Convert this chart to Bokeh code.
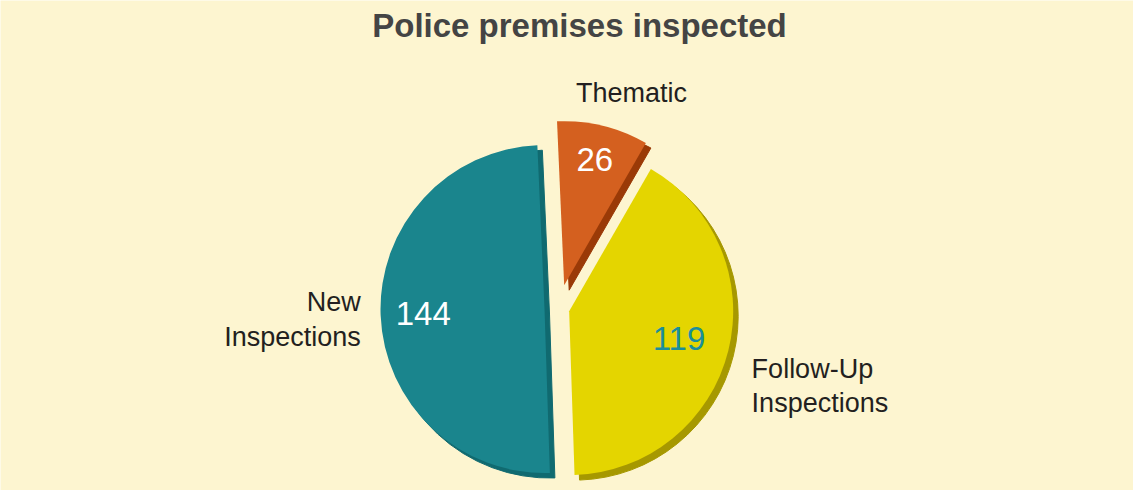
import math
from bokeh.plotting import figure
from bokeh.models import ColumnDataSource, Range1d
from bokeh.core.properties import value
from bokeh.embed import file_html
from bokeh.resources import INLINE

# ---- data ----
title_text = "Police premises inspected"
categories = ["Thematic", "Follow-Up\nInspections", "New\nInspections"]
values = [26, 119, 144]

# ---- style ----
colors = ["#D4601F", "#E4D500", "#1A858D"]
side_colors = ["#9A3A07", "#A69800", "#106A70"]
value_colors = ["#FFFFFF", "#1B8E9B", "#FFFFFF"]
explode = [24, 11, 14]
value_rfrac = [0.79, 0.69, 0.74]
label_dist = [228, 208, 198]
label_ang_tweak = [-5.0, -7.8, 1.0]
label_align = ["center", "left", "right"]
BG = "#FDF5D0"
R = 164
CX, CY = 566, 498 - 316
START_DEG = 92.5
DEPTH = (5, -5)

total = float(sum(values))
p = figure(width=1133, height=490, x_range=Range1d(8, 1141), y_range=Range1d(0, 490),
           output_backend="svg", toolbar_location=None, min_border=0)
p.axis.visible = False
p.grid.visible = False
p.outline_line_color = None
p.background_fill_color = BG
p.border_fill_color = BG

xs, ys, sa, ea, sx, sy = [], [], [], [], [], []
vx, vy, lx, ly = [], [], [], []
cum = 0.0
for i, v in enumerate(values):
    a0 = math.radians(START_DEG - cum / total * 360.0)
    a1 = math.radians(START_DEG - (cum + v) / total * 360.0)
    cum += v
    b = (a0 + a1) / 2
    ax = CX + explode[i] * math.cos(b)
    ay = CY + explode[i] * math.sin(b)
    xs.append(ax); ys.append(ay)
    sx.append(ax + DEPTH[0]); sy.append(ay + DEPTH[1])
    sa.append(a1); ea.append(a0)
    vx.append(ax + value_rfrac[i] * R * math.cos(b))
    vy.append(ay + value_rfrac[i] * R * math.sin(b))
    lb = b + math.radians(label_ang_tweak[i])
    lx.append(CX + label_dist[i] * math.cos(lb))
    ly.append(CY + label_dist[i] * math.sin(lb))

src = ColumnDataSource(dict(x=xs, y=ys, sx=sx, sy=sy, sa=sa, ea=ea, c=colors, sc=side_colors,
                            vx=vx, vy=vy, vt=[str(v) for v in values], vc=value_colors,
                            lx=lx, ly=ly, lt=categories, la=label_align))

p.wedge(x="sx", y="sy", radius=R, start_angle="sa", end_angle="ea", direction="anticlock",
        fill_color="sc", line_color="sc", line_width=1, source=src)
p.wedge(x="x", y="y", radius=R, start_angle="sa", end_angle="ea", direction="anticlock",
        fill_color="c", line_color=None, source=src)

p.text(x="vx", y="vy", text="vt", text_color="vc", text_font=value("Liberation Sans"),
       text_font_size="33px", text_align="center", text_baseline="middle", source=src)
p.text(x="lx", y="ly", text="lt", text_color="#231F20", text_font=value("Liberation Sans"),
       text_font_size="27px", text_align="la", text_baseline="middle", text_line_height=1.15,
       source=src)

p.text(x=[587], y=[498 - 33], text=[title_text], text_color="#444444",
       text_font=value("Liberation Sans"), text_font_style="bold", text_font_size="33px",
       text_align="center", text_baseline="middle")

open("out.html", "w").write(file_html(p, INLINE))
